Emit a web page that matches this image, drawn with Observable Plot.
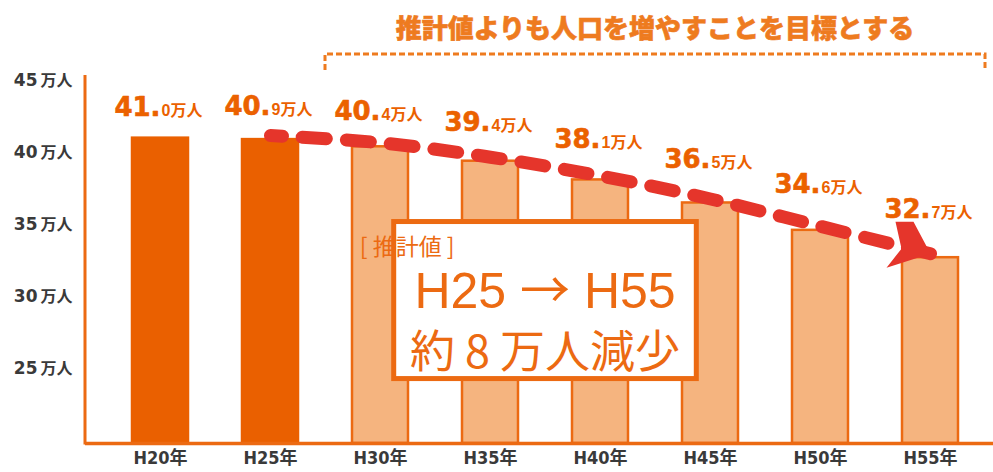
<!DOCTYPE html>
<html>
<head>
<meta charset="utf-8">
<script src="https://cdn.jsdelivr.net/npm/d3@7"></script>
<script src="https://cdn.jsdelivr.net/npm/@observablehq/plot@0.6"></script>
<style>
  html, body { margin: 0; padding: 0; background: #ffffff; }
  svg { display: block; }
</style>
</head>
<body>
<script>
// ---- data ----
const years = ["H20", "H25", "H30", "H35", "H40", "H45", "H50", "H55"];
const population = [41.0, 40.9, 40.4, 39.4, 38.1, 36.5, 34.6, 32.7];
const kinds = ["実績", "実績", "推計", "推計", "推計", "推計", "推計", "推計"];
const yTicks = [25, 30, 35, 40, 45];
const unit = "万人";
const yearSuffix = "年";
const titleText = "推計値よりも人口を増やすことを目標とする";
const boxLabel = "[ 推計値 ]";
const boxFrom = "H25";
const boxTo = "H55";
const boxLine2 = "約 8 万人減少";

const data = years.map((year, i) => ({year, value: population[i], kind: kinds[i], i}));
const trend = data.filter(d => d.year >= "H25");
const last = [data[data.length - 1]];

// ---- styles ----
const ORANGE = "#EC6A12";
const DARK = "#EA6000";
const LIGHT = "#F5B47F";
const RED = "#E5352B";
const LABEL = "#EB6100";
const TITLE = "#EE7B1F";
const GRAY = "#3a3a3a";
const yMin = 19.8, yMax = 45.35;

function leftAxis(index, scales, values, dim) {
  const g = d3.create("svg:g");
  g.append("line")
    .attr("x1", dim.marginLeft).attr("x2", dim.marginLeft)
    .attr("y1", dim.marginTop).attr("y2", dim.height - dim.marginBottom + 1.5)
    .attr("stroke", ORANGE).attr("stroke-width", 3);
  return g.node();
}

function summaryBox(index, {x, y}) {
  const bw = x.bandwidth();
  const left = x("H30") + bw * 0.7;
  const right = x("H45") + bw * 0.3;
  const top = y(35.35);
  const bottom = y(24.1);
  const cx = (left + right) / 2;
  const g = d3.create("svg:g");
  g.append("rect")
    .attr("x", left + 2.5).attr("y", top + 2.5)
    .attr("width", right - left - 5).attr("height", bottom - top - 5)
    .attr("fill", "#fff").attr("stroke", ORANGE).attr("stroke-width", 5);
  g.append("text").text(boxLabel)
    .attr("x", left + 16).attr("y", top + 36)
    .attr("fill", ORANGE).attr("font-size", 23)
    .attr("font-family", "'Noto Sans CJK JP', sans-serif");
  const t1 = g.append("text")
    .attr("x", cx).attr("y", top + 89).attr("text-anchor", "middle")
    .attr("fill", ORANGE).attr("font-size", 50)
    .attr("font-family", "'Liberation Sans', Arial, sans-serif");
  t1.append("tspan").text(boxFrom + " ");
  t1.append("tspan").text("→").attr("font-family", "'Noto Sans CJK JP', sans-serif");
  t1.append("tspan").text(" " + boxTo);
  g.append("text").text(boxLine2)
    .attr("x", cx).attr("y", top + 149).attr("text-anchor", "middle")
    .attr("fill", ORANGE).attr("font-size", 45)
    .attr("font-family", "'Noto Sans CJK JP', sans-serif");
  return g.node();
}

function titleBracket(index, {x}) {
  const bw = x.bandwidth();
  const gap = x.step() - bw;
  const left = x("H30") - gap / 2;
  const right = x("H55") + bw + gap / 2;
  const g = d3.create("svg:g");
  g.append("path")
    .attr("d", `M${left},70V54H${right}V70`)
    .attr("fill", "none").attr("stroke", TITLE).attr("stroke-width", 3)
    .attr("stroke-dasharray", "6 3");
  g.append("text").text(titleText)
    .attr("x", (left + right) / 2).attr("y", 38).attr("text-anchor", "middle")
    .attr("fill", TITLE).attr("font-size", 26).attr("font-weight", 900)
    .attr("stroke", TITLE).attr("stroke-width", 0.6)
    .attr("font-family", "'Noto Sans CJK JP', sans-serif");
  return g.node();
}

// chunky swallow-tail arrowhead, tip at the origin
const arrowHead = {
  draw(ctx) {
    ctx.moveTo(0, 0);
    ctx.lineTo(-44, 14);
    ctx.lineTo(-29, -5);
    ctx.lineTo(-35, -32);
    ctx.lineTo(-17, -32);
    ctx.closePath();
  }
};

const chart = Plot.plot({
  width: 993,
  height: 472,
  marginLeft: 85,
  marginRight: 0,
  marginTop: 75,
  marginBottom: 29,
  style: {background: "#ffffff", overflow: "visible"},
  x: {domain: years, range: [131, 958.4], paddingInner: 0.492, paddingOuter: 0, axis: null},
  y: {domain: [yMin, yMax], axis: null},
  marks: [
    Plot.barY(data, {
      x: "year", y1: yMin, y2: "value",
      fill: d => d.kind === "実績" ? DARK : LIGHT,
      stroke: d => d.kind === "実績" ? DARK : ORANGE,
      strokeWidth: 2.5
    }),
    Plot.ruleY([yMin], {stroke: ORANGE, strokeWidth: 3.5}),
    leftAxis,
    Plot.line(trend, {
      x: "year", y: "value", dy: -4,
      curve: "catmull-rom",
      stroke: RED, strokeWidth: 13,
      strokeDasharray: "24 20", strokeDashoffset: 12
    }),
    Plot.dot(last, {x: "year", y: "value", dy: -4, symbol: arrowHead, fill: RED, stroke: "none"}),
    summaryBox,
    // value labels: big integer part
    Plot.text(data, {
      x: "year", y: d => d.value + d.i * 0.18, dy: -22,
      text: d => d.value.toFixed(1).split(".")[0] + ".",
      textAnchor: "end", lineAnchor: "bottom",
      fill: LABEL, fontSize: 26, fontWeight: "bold",
      stroke: LABEL, strokeWidth: 0.6,
      fontFamily: "'DejaVu Sans', sans-serif"
    }),
    // value labels: decimal + unit
    Plot.text(data, {
      x: "year", y: d => d.value + d.i * 0.18, dy: -22,
      text: d => d.value.toFixed(1).split(".")[1] + unit,
      textAnchor: "start", lineAnchor: "bottom", dx: 1,
      fill: LABEL, fontSize: 16, fontWeight: "bold",
      fontFamily: "'Liberation Sans', 'Noto Sans CJK JP', sans-serif"
    }),
    // y tick labels
    Plot.text(yTicks, {
      y: d => d, text: d => String(d), frameAnchor: "left", dx: -48,
      textAnchor: "end", fill: GRAY, fontSize: 17, fontWeight: "bold",
      fontFamily: "'DejaVu Sans', sans-serif"
    }),
    Plot.text(yTicks, {
      y: d => d, text: () => unit, frameAnchor: "left", dx: -45,
      textAnchor: "start", fill: GRAY, fontSize: 16, fontWeight: "bold",
      fontFamily: "'Noto Sans CJK JP', sans-serif"
    }),
    // x labels
    Plot.text(years, {
      x: d => d, text: d => d + yearSuffix, frameAnchor: "bottom", dy: 20,
      fill: GRAY, fontSize: 18, fontWeight: "bold",
      fontFamily: "'DejaVu Sans Condensed', 'Liberation Sans Narrow', 'Noto Sans CJK JP', sans-serif"
    }),
    titleBracket
  ]
});

document.body.appendChild(chart);
</script>
</body>
</html>
